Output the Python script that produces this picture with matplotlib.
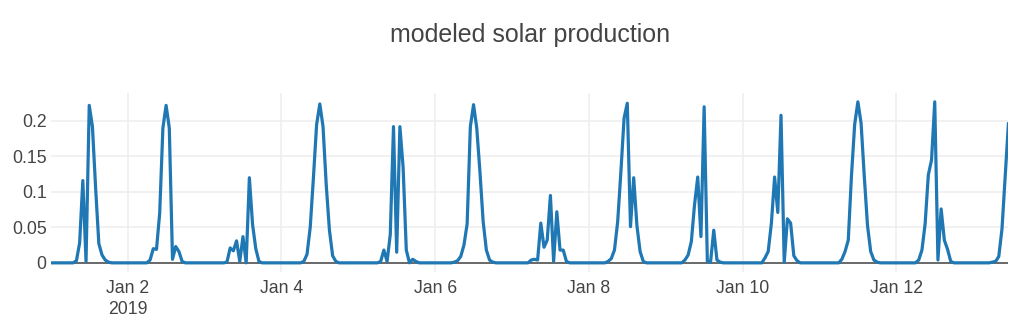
import numpy as np
import pandas as pd
import matplotlib
matplotlib.use("Agg")
import matplotlib.pyplot as plt

plt.rcParams['font.family'] = ['Liberation Sans', 'DejaVu Sans']

# hourly modeled output, one list per day (kW)
jan01 = [0, 0, 0, 0, 0, 0, 0, 0, 0.003, 0.028, 0.116, 0.002,
         0.222, 0.192, 0.105, 0.027, 0.011, 0.004, 0.001, 0, 0, 0, 0, 0]
jan02 = [0, 0, 0, 0, 0, 0, 0, 0.004, 0.020, 0.019, 0.070, 0.190,
         0.222, 0.190, 0.005, 0.023, 0.016, 0.002, 0, 0, 0, 0, 0, 0]
jan03 = [0, 0, 0, 0, 0, 0, 0, 0.001, 0.021, 0.017, 0.031, 0.002,
         0.037, 0.0, 0.120, 0.054, 0.020, 0.002, 0, 0, 0, 0, 0, 0]
jan04 = [0, 0, 0, 0, 0, 0, 0, 0.002, 0.012, 0.050, 0.120, 0.195,
         0.224, 0.192, 0.110, 0.046, 0.010, 0.002, 0, 0, 0, 0, 0, 0]
jan05 = [0, 0, 0, 0, 0, 0, 0, 0.002, 0.018, 0.002, 0.040, 0.192,
         0.015, 0.192, 0.135, 0.018, 0.0, 0.005, 0.002, 0, 0, 0, 0, 0]
jan06 = [0, 0, 0, 0, 0, 0, 0.001, 0.003, 0.009, 0.025, 0.055, 0.192,
         0.223, 0.190, 0.128, 0.058, 0.018, 0.004, 0.001, 0, 0, 0, 0, 0]
jan07 = [0, 0, 0, 0, 0, 0, 0.004, 0.005, 0.004, 0.056, 0.022, 0.032,
         0.095, 0.002, 0.072, 0.018, 0.018, 0.002, 0, 0, 0, 0, 0, 0]
jan08 = [0, 0, 0, 0, 0, 0, 0.002, 0.006, 0.018, 0.058, 0.128, 0.204,
         0.225, 0.051, 0.120, 0.053, 0.016, 0.002, 0, 0, 0, 0, 0, 0]
jan09 = [0, 0, 0, 0, 0, 0, 0.004, 0.011, 0.030, 0.082, 0.121, 0.037,
         0.220, 0.002, 0.001, 0.046, 0.004, 0.001, 0, 0, 0, 0, 0, 0]
jan10 = [0, 0, 0, 0, 0, 0, 0, 0.007, 0.016, 0.056, 0.121, 0.071,
         0.208, 0.001, 0.062, 0.056, 0.010, 0.003, 0, 0, 0, 0, 0, 0]
jan11 = [0, 0, 0, 0, 0, 0, 0, 0.005, 0.016, 0.032, 0.123, 0.195,
         0.227, 0.197, 0.122, 0.053, 0.016, 0.004, 0.001, 0, 0, 0, 0, 0]
jan12 = [0, 0, 0, 0, 0, 0, 0, 0.004, 0.018, 0.055, 0.124, 0.145,
         0.227, 0.004, 0.076, 0.032, 0.019, 0.002, 0, 0, 0, 0, 0, 0]
jan13 = [0, 0, 0, 0, 0, 0, 0.001, 0.002, 0.009, 0.048, 0.121, 0.196]

days = [jan01, jan02, jan03, jan04, jan05, jan06, jan07,
        jan08, jan09, jan10, jan11, jan12, jan13]
production = np.concatenate(days)
times = pd.date_range("2019-01-01 00:00", periods=len(production), freq="h")

xtick_dates = pd.to_datetime(["2019-01-02", "2019-01-04", "2019-01-06",
                              "2019-01-08", "2019-01-10", "2019-01-12"])
xtick_labels = ["Jan 2\n2019", "Jan 4", "Jan 6", "Jan 8", "Jan 10", "Jan 12"]
ytick_vals = [0, 0.05, 0.1, 0.15, 0.2]
ytick_labels = ["0", "0.05", "0.1", "0.15", "0.2"]

W, H = 1036, 332
fig = plt.figure(figsize=(W / 100, H / 100), dpi=100)
left, right, top, bottom = 50.8, 1008.4, 92.6, 271.5
ax = fig.add_axes([left / W, 1 - bottom / H, (right - left) / W, (bottom - top) / H])

text_color = "#444444"
ax.plot(times, production, color="#1f77b4", lw=2.3, solid_joinstyle="round", zorder=3)
ax.axhline(0, color=text_color, lw=1.1, zorder=2)

ax.set_xlim(times[0], times[-1])
ax.set_ylim(-0.0122, 0.240)
ax.set_xticks(xtick_dates)
ax.set_xticklabels(xtick_labels, linespacing=1.35)
ax.set_yticks(ytick_vals)
ax.set_yticklabels(ytick_labels)
ax.tick_params(axis="both", length=0, labelsize=12.7, colors=text_color)
ax.tick_params(axis="x", pad=6)
ax.tick_params(axis="y", pad=3)
ax.grid(True, color="#eeeeee", lw=1.1, zorder=0)
ax.set_axisbelow(True)
for s in ax.spines.values():
    s.set_visible(False)

fig.text((left + right) / 2 / W, 1 - 35 / H, "modeled solar production",
         ha="center", va="center", fontsize=18, color=text_color)

fig.savefig("out.png", dpi=100)
